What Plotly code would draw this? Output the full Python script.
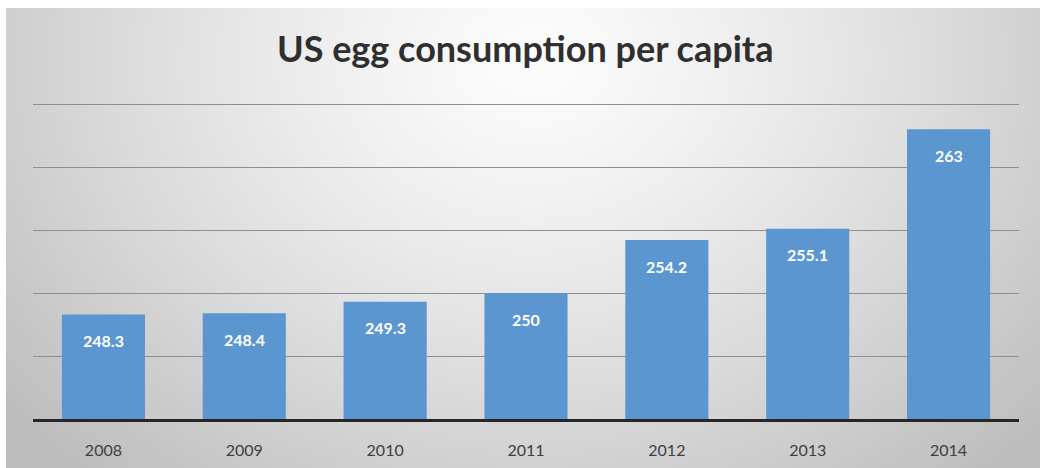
import base64, struct, zlib
import plotly.graph_objects as go

# ---- data ----
years = ["2008", "2009", "2010", "2011", "2012", "2013", "2014"]
consumption = [248.3, 248.4, 249.3, 250, 254.2, 255.1, 263]
labels = ["248.3", "248.4", "249.3", "250", "254.2", "255.1", "263"]
title_text = "US egg consumption per capita"
grid_values = [245, 250, 255, 260, 265]

# ---- radial gradient background as PNG ----
W, H = 1040, 468
def make_png(w, h, func):
    raw = bytearray()
    for j in range(h):
        raw.append(0)
        for i in range(w):
            raw.append(func(i, j))
    def chunk(t, d):
        c = struct.pack(">I", len(d)) + t + d
        return c + struct.pack(">I", zlib.crc32(t + d) & 0xffffffff)
    png = b"\x89PNG\r\n\x1a\n"
    png += chunk(b"IHDR", struct.pack(">IIBBBBB", w, h, 8, 0, 0, 0, 0))
    png += chunk(b"IDAT", zlib.compress(bytes(raw), 9))
    png += chunk(b"IEND", b"")
    return "data:image/png;base64," + base64.b64encode(png).decode()

S = 4
gw, gh = (W - 6) // S, (H - 8) // S
def grad(i, j):
    x = 6 + i * S
    y = 8 + j * S
    dx = (x - 530) / 520.0
    dy = (y - 60) / 420.0
    r = (dx * dx + dy * dy) ** 0.5
    v = 252 - 44 * (r ** 1.3)
    return max(190, min(252, int(v)))
bg = make_png(gw, gh, grad)

# plot area pixels
L, R, T, B = 33, 1019, 99, 419
pw, ph = R - L, B - T

fig = go.Figure()
fig.add_trace(go.Bar(
    x=years, y=consumption,
    marker=dict(color="#5B96D0", line=dict(width=0)),
    hoverinfo="x+y",
))

for i, (v, lab) in enumerate(zip(consumption, labels)):
    fig.add_annotation(x=i, y=v, text="<b>%s</b>" % lab, showarrow=False,
                       yshift=-26, yanchor="middle",
                       font=dict(family="Lato", size=16, color="white"))

fig.update_layout(
    width=W, height=H,
    margin=dict(l=L, r=W - R, t=T, b=H - B),
    paper_bgcolor="white",
    plot_bgcolor="rgba(0,0,0,0)",
    bargap=0.41,
    showlegend=False,
    title=dict(text="<b>%s</b>" % title_text, x=0.505, xanchor="center",
               y=1 - 49 / H, yanchor="middle", yref="container",
               font=dict(family="Lato", size=36, color="#2f2f2f")),
    images=[dict(source=bg, xref="paper", yref="paper",
                 x=(6 - L) / pw, y=(B - 8) / ph,
                 sizex=(W - 6) / pw, sizey=(H - 8) / ph,
                 sizing="stretch", xanchor="left", yanchor="top",
                 layer="below")],
)
fig.update_xaxes(type="category", automargin=False, range=[-0.5, len(years) - 0.5],
                 showline=True, linecolor="#262626", linewidth=3,
                 showgrid=False, ticks="", ticklabelstandoff=15,
                 tickfont=dict(family="Lato", size=16, color="#404040"))
fig.update_yaxes(automargin=False, range=[240, 265.4], tickvals=grid_values,
                 showticklabels=False,
                 showgrid=True, gridcolor="#8e8e8e", gridwidth=1.2,
                 zeroline=False, showline=False)

fig.write_html("out.html", config={"displayModeBar": False},
               post_script="document.body.style.margin='0';document.body.style.padding='0';")
